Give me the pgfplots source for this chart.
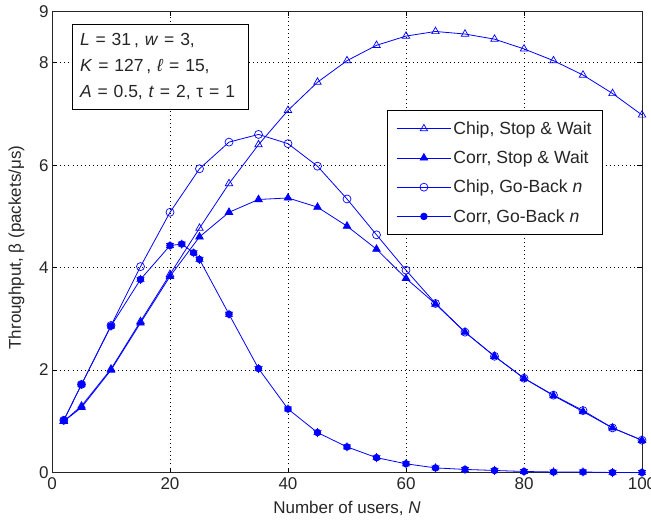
\documentclass[border=0pt]{standalone}
\usepackage{fontspec}
\setmainfont{Liberation Sans}
\usepackage{pgfplots}
\pgfplotsset{compat=1.18}
\begin{document}
\begin{tikzpicture}[x=1pt,y=1pt]
\path[use as bounding box] (0,0) rectangle (651,523);
\begin{axis}[
  at={(52pt,50.5pt)}, anchor=south west, scale only axis,
  width=590pt, height=461pt,
  xmin=0, xmax=100, ymin=0, ymax=9,
  xtick={0,20,40,60,80,100}, ytick={0,2,4,6,8,9},
  /pgf/number format/assume math mode=true,
  tick label style={font=\fontsize{17}{20}\selectfont, text=black!85},
  xticklabel style={yshift=-1.5pt},
  grid=major, major grid style={dash pattern=on 0.9pt off 3.2pt, black, line width=0.9pt},
  tick align=inside, major tick length=5pt,
  xtick pos=both, ytick pos=both,
  xticklabel pos=lower, yticklabel pos=left,
  tick style={black, line width=0.7pt},
  axis line style={black!85, line width=0.9pt},
  xlabel={Number of users, \textit{N}},
  ylabel={Throughput, β (packets/μs)},
  every axis x label/.style={at={(axis description cs:0.5,-0.079)}, anchor=center, font=\fontsize{17}{20}\selectfont, text=black!85},
  every axis y label/.style={at={(axis description cs:-0.06,0.488)}, rotate=90, anchor=center, font=\fontsize{17}{20}\selectfont, text=black!85},
  legend style={at={(rel axis cs:0.568,0.786)}, anchor=north west, draw=black, line width=0.8pt,
    font=\fontsize{17.6}{20}\selectfont, text=black!85, row sep=11pt, inner xsep=9pt, inner ysep=9pt,
    cells={anchor=west}},
  legend cell align=left,
  legend image code/.code={\draw[mark repeat=2,mark phase=2,#1] plot coordinates {(0pt,0pt) (27pt,0pt) (54pt,0pt)};},
  every axis plot/.append style={blue, line width=0.8pt, mark options={solid, line width=0.7pt}},
]
\addplot[mark=triangle, mark size=4.3pt] coordinates {
(2,1.00)(5,1.30)(10,2.02)(15,2.95)(20,3.87)(25,4.77)(30,5.64)(35,6.40)(40,7.07)(45,7.62)(50,8.04)(55,8.34)(60,8.52)(65,8.61)(70,8.56)(75,8.46)(80,8.27)(85,8.04)(90,7.76)(95,7.40)(100,6.98)};
\addlegendentry{Chip, Stop \& Wait}
\addplot[mark=triangle*, mark size=4.3pt, mark options={fill=blue}] coordinates {
(2,1.00)(5,1.27)(10,2.00)(15,2.92)(20,3.83)(25,4.60)(30,5.08)(35,5.33)(40,5.36)(45,5.18)(50,4.81)(55,4.36)(60,3.79)(65,3.29)(70,2.74)(75,2.27)(80,1.84)(85,1.50)(90,1.19)(95,0.87)(100,0.63)};
\addlegendentry{Corr, Stop \& Wait}
\addplot[mark=o, mark size=4pt] coordinates {
(2,1.02)(5,1.72)(10,2.87)(15,4.02)(20,5.08)(25,5.93)(30,6.45)(35,6.60)(40,6.42)(45,5.98)(50,5.34)(55,4.64)(60,3.95)(65,3.30)(70,2.74)(75,2.27)(80,1.84)(85,1.51)(90,1.21)(95,0.87)(100,0.63)};
\addlegendentry{Chip, Go-Back \textit{n}}
\addplot[mark=*, mark size=3.3pt, mark options={fill=blue}] coordinates {
(2,1.02)(5,1.72)(10,2.86)(15,3.77)(20,4.43)(22,4.46)(24,4.29)(25,4.16)(30,3.09)(35,2.03)(40,1.24)(45,0.78)(50,0.50)(55,0.29)(60,0.17)(65,0.09)(70,0.06)(75,0.04)(80,0.02)(85,0.01)(90,0.01)(95,0.00)(100,0.00)};
\addlegendentry{Corr, Go-Back \textit{n}}
\addplot[only marks, mark=asterisk, mark size=4.5pt, forget plot] coordinates {
(2,1.02)(5,1.72)(10,2.86)(15,3.77)(20,4.43)(22,4.46)(24,4.29)(25,4.16)(30,3.09)(35,2.03)(40,1.24)(45,0.78)(50,0.50)(55,0.29)(60,0.17)(65,0.09)(70,0.06)(75,0.04)(80,0.02)(85,0.01)(90,0.01)(95,0.00)(100,0.00)};
\node[draw=black, line width=0.8pt, fill=white, anchor=north west, align=left,
  text width=160pt, inner xsep=8pt, inner ysep=5pt, minimum height=85pt,
  font=\fontsize{17.5}{26}\selectfont, text=black!85]
  at (rel axis cs:0.0334,0.973)
  {\textit{L} = 31\,, \textit{w} = 3,\\ \textit{K} = 127\,, \textit{ℓ} = 15,\\ \textit{A} = 0.5, \textit{t} = 2, τ = 1};
\end{axis}
\end{tikzpicture}
\end{document}
